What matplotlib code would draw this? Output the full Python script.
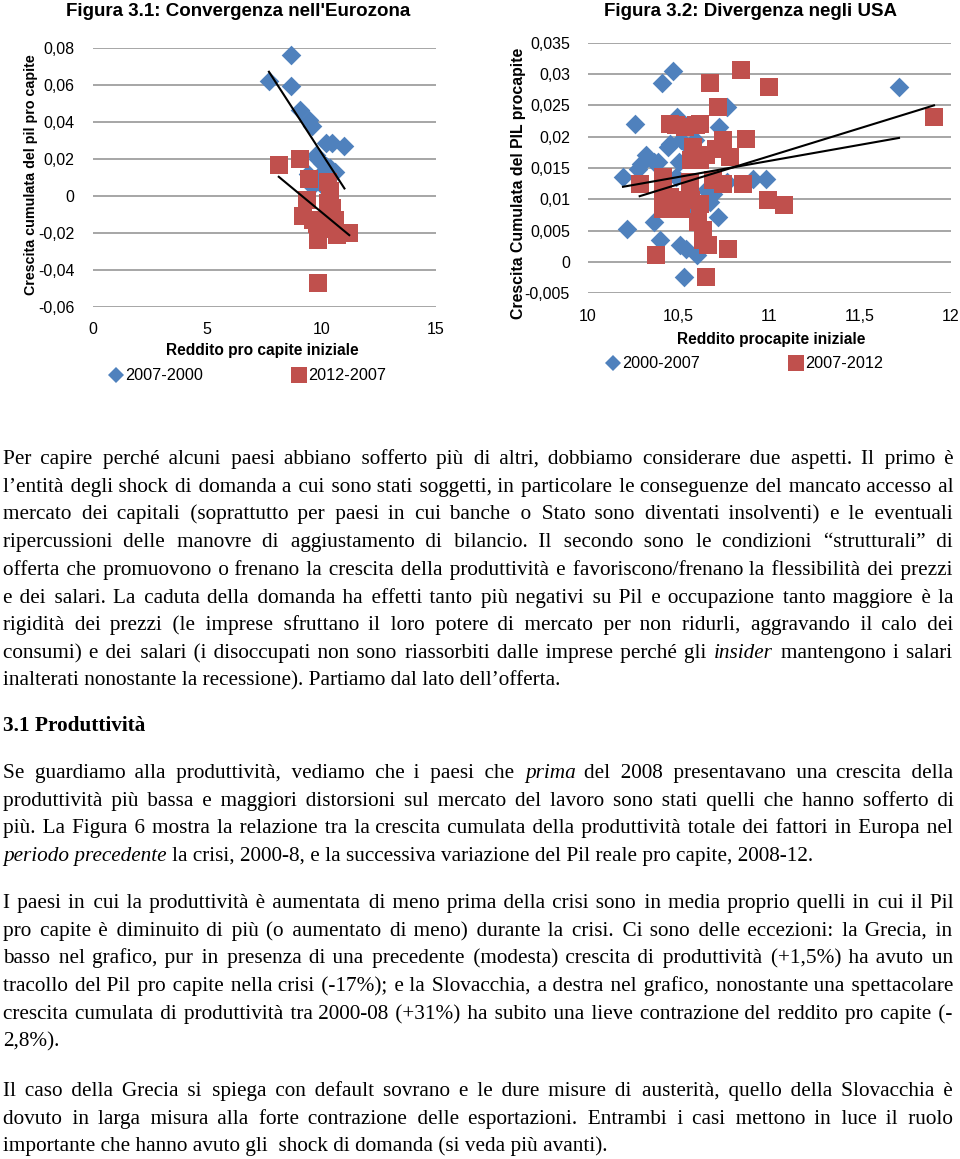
import re
import matplotlib
matplotlib.use('Agg')
import matplotlib.pyplot as plt
from matplotlib.lines import Line2D
from matplotlib.ticker import FuncFormatter, MultipleLocator

# ---- data: Figura 3.1 (Eurozona) ----
eu_x_a = [8.66, 7.70, 8.65, 9.06, 9.47, 9.60, 10.19, 10.44, 11.0, 9.76,
          9.86, 10.0, 10.19, 10.37, 10.59, 9.42, 9.93, 9.57, 10.0]
eu_y_a = [0.076, 0.062, 0.0595, 0.0466, 0.041, 0.0377, 0.0287, 0.0287, 0.027, 0.022,
          0.020, 0.0175, 0.016, 0.0148, 0.013, 0.012, 0.011, 0.0055, 0.006]
eu_x_b = [8.13, 9.06, 9.47, 10.3, 10.37, 9.35, 10.3, 10.44, 9.20, 9.64,
          9.79, 10.08, 10.59, 10.66, 11.21, 9.86, 9.86, 10.51, 10.4]
eu_y_b = [0.0168, 0.020, 0.0089, 0.0076, 0.0025, -0.002, -0.004, -0.0065, -0.011, -0.013,
          -0.015, -0.017, -0.013, -0.021, -0.020, -0.024, -0.047, -0.018, -0.009]
eu_trend_a = [0.067, 0.004]     # trend value at min / max x of the series
eu_trend_b = [0.0103, -0.0212]
eu_series = ['2007-2000', '2012-2007']

# ---- data: Figura 3.2 (USA) ----
us_x_a = [10.193, 10.217, 10.258, 10.276, 10.294, 10.318, 10.362, 10.386, 10.362, 10.395,
          10.408, 10.469, 10.493, 10.44, 10.454, 10.515, 10.502, 10.484, 10.506, 10.539,
          10.53, 10.60, 10.589, 10.565, 10.58, 10.653, 10.69, 10.672, 10.718, 10.723,
          10.764, 10.769, 10.91, 10.984, 11.715]
us_y_a = [0.0136, 0.0053, 0.0221, 0.0149, 0.0157, 0.0171, 0.0159, 0.016, 0.0064, 0.0035,
          0.0285, 0.0305, 0.0232, 0.0184, 0.0189, 0.0195, 0.016, 0.0136, 0.0027, 0.0020,
          -0.0024, 0.0011, 0.0195, 0.0182, 0.0085, 0.0115, 0.0109, 0.0096, 0.0072, 0.0216,
          0.0248, 0.0128, 0.0133, 0.0133, 0.0279]
us_x_b = [10.285, 10.377, 10.414, 10.414, 10.414, 10.451, 10.488, 10.534, 10.598, 10.616,
          10.672, 10.718, 10.841, 11.0, 10.874, 10.745, 10.58, 10.57, 10.616, 10.653,
          10.708, 10.782, 10.69, 10.745, 10.855, 10.561, 10.451, 10.50, 10.451, 10.515,
          10.570, 10.616, 10.607, 10.635, 10.635, 10.662, 10.773, 10.653, 10.99, 11.08,
          11.908]
us_y_b = [0.0124, 0.0011, 0.0136, 0.0109, 0.0085, 0.0220, 0.0218, 0.0216, 0.0218, 0.0220,
          0.0285, 0.0248, 0.0306, 0.0279, 0.0197, 0.0195, 0.0184, 0.0163, 0.0163, 0.0171,
          0.0181, 0.0168, 0.0131, 0.0125, 0.0124, 0.0128, 0.0104, 0.0099, 0.0088, 0.0085,
          0.0099, 0.0093, 0.0064, 0.0051, 0.0035, 0.0027, 0.0021, -0.0024, 0.0099, 0.0091,
          0.0231]
us_trend_a = [0.0120, 0.0198]
us_trend_b = [0.0105, 0.0250]
us_series = ['2000-2007', '2007-2012']

# ---- body text (original line breaks; _..._ = italic) ----
para1 = [
    "Per capire perché alcuni paesi abbiano sofferto più di altri, dobbiamo considerare due aspetti. Il primo è",
    "l’entità degli shock di domanda a cui sono stati soggetti, in particolare le conseguenze del mancato accesso al",
    "mercato dei capitali (soprattutto per paesi in cui banche o Stato sono diventati insolventi) e le eventuali",
    "ripercussioni delle manovre di aggiustamento di bilancio. Il secondo sono le condizioni “strutturali” di",
    "offerta che promuovono o frenano la crescita della produttività e favoriscono/frenano la flessibilità dei prezzi",
    "e dei salari. La caduta della domanda ha effetti tanto più negativi su Pil e occupazione tanto maggiore è la",
    "rigidità dei prezzi (le imprese sfruttano il loro potere di mercato per non ridurli, aggravando il calo dei",
    "consumi) e dei salari (i disoccupati non sono riassorbiti dalle imprese perché gli _insider_ mantengono i salari",
    "inalterati nonostante la recessione). Partiamo dal lato dell’offerta.",
]
heading = "3.1 Produttività"
para2 = [
    "Se guardiamo alla produttività, vediamo che i paesi che _prima_ del 2008 presentavano una crescita della",
    "produttività più bassa e maggiori distorsioni sul mercato del lavoro sono stati quelli che hanno sofferto di",
    "più. La Figura 6 mostra la relazione tra la crescita cumulata della produttività totale dei fattori in Europa nel",
    "_periodo precedente_ la crisi, 2000-8, e la successiva variazione del Pil reale pro capite, 2008-12.",
]
para3 = [
    "I paesi in cui la produttività è aumentata di meno prima della crisi sono in media proprio quelli in cui il Pil",
    "pro capite è diminuito di più (o aumentato di meno) durante la crisi. Ci sono delle eccezioni: la Grecia, in",
    "basso nel grafico, pur in presenza di una precedente (modesta) crescita di produttività (+1,5%) ha avuto un",
    "tracollo del Pil pro capite nella crisi (-17%); e la Slovacchia, a destra nel grafico, nonostante una spettacolare",
    "crescita cumulata di produttività tra 2000-08 (+31%) ha subito una lieve contrazione del reddito pro capite (-",
    "2,8%).",
]
para4 = [
    "Il caso della Grecia si spiega con default sovrano e le dure misure di austerità, quello della Slovacchia è",
    "dovuto in larga misura alla forte contrazione delle esportazioni. Entrambi i casi mettono in luce il ruolo",
    "importante che hanno avuto gli  shock di domanda (si veda più avanti).",
]

BLUE = '#4F81BD'
RED = '#C0504D'
GRID = '#a6a6a6'
SANS = ['Liberation Sans', 'DejaVu Sans']
SERIF = ['Liberation Serif', 'DejaVu Serif']

fig = plt.figure(figsize=(9.6, 11.59), dpi=100)
fig.patch.set_facecolor('white')


def comma_fmt(v, pos):
    return f"{round(v, 6):g}".replace('.', ',')


def scatter_panel(rect, xa, ya, xb, yb, ta, tb, xlim, ylim, ystep, xstep,
                  title, ylabel, xlabel, names, title_xy, xlabel_xy, ylabel_xy, ylabel_fs,
                  leg_xy, leg_space):
    ax = fig.add_axes(rect)
    ax.set_xlim(*xlim)
    ax.set_ylim(*ylim)
    ax.yaxis.set_major_locator(MultipleLocator(ystep))
    ax.xaxis.set_major_locator(MultipleLocator(xstep))
    ax.yaxis.set_major_formatter(FuncFormatter(comma_fmt))
    ax.xaxis.set_major_formatter(FuncFormatter(comma_fmt))
    for s in ax.spines.values():
        s.set_visible(False)
    ax.grid(axis='y', color=GRID, linewidth=1.4)
    ax.set_axisbelow(True)
    ax.tick_params(axis='y', length=0, labelsize=11.5, pad=13)
    ax.tick_params(axis='x', length=0, labelsize=11.5, pad=11)
    for lab in ax.get_xticklabels() + ax.get_yticklabels():
        lab.set_family(SANS)
    ax.scatter(xa, ya, marker='D', s=100, color=BLUE, linewidths=0, zorder=3, clip_on=False)
    ax.scatter(xb, yb, marker='s', s=160, color=RED, linewidths=0, zorder=4, clip_on=False)
    ax.plot([min(xa), max(xa)], ta, color='black', lw=1.5, zorder=5)
    ax.plot([min(xb), max(xb)], tb, color='black', lw=1.5, zorder=5)

    fig.text(title_xy[0] / 960, 1 - title_xy[1] / 1159, title, ha='center', va='center',
             fontsize=13.5, fontweight='bold', family=SANS)
    fig.text(xlabel_xy[0] / 960, 1 - xlabel_xy[1] / 1159, xlabel, ha='center', va='center',
             fontsize=11.2, fontweight='bold', family=SANS)
    fig.text(ylabel_xy[0] / 960, 1 - ylabel_xy[1] / 1159, ylabel, ha='center', va='center',
             rotation=90, fontsize=ylabel_fs, fontweight='bold', family=SANS)
    handles = [Line2D([], [], marker='D', ls='', color=BLUE, markersize=8.5, markeredgewidth=0),
               Line2D([], [], marker='s', ls='', color=RED, markersize=11, markeredgewidth=0)]
    fig.legend(handles, names, loc='center', bbox_to_anchor=(leg_xy[0] / 960, 1 - leg_xy[1] / 1159),
               ncol=2, frameon=False, handlelength=0.8, handletextpad=0.15, columnspacing=leg_space,
               prop={'family': SANS, 'size': 11.7})
    return ax


scatter_panel([92.7 / 960, 1 - 307 / 1159, 343.3 / 960, 259.3 / 1159],
              eu_x_a, eu_y_a, eu_x_b, eu_y_b, eu_trend_a, eu_trend_b,
              (0, 15), (-0.06, 0.08), 0.02, 5,
              "Figura 3.1: Convergenza nell'Eurozona", 'Crescita cumulata del pil pro capite',
              'Reddito pro capite iniziale', eu_series,
              (238, 12), (262, 350), (31, 175), 10.3, (248, 376), 5.5)

scatter_panel([588 / 960, 1 - 293.3 / 1159, 362.7 / 960, 250.6 / 1159],
              us_x_a, us_y_a, us_x_b, us_y_b, us_trend_a, us_trend_b,
              (10, 12), (-0.005, 0.035), 0.005, 0.5,
              'Figura 3.2: Divergenza negli USA', 'Crescita Cumulata del PIL procapite',
              'Reddito procapite iniziale', us_series,
              (750, 11), (771, 339), (518, 183), 11.4, (745, 364), 5.5)

# ---- body text, justified with hair spaces ----
tx = fig.add_axes([0, 0, 1, 1])
tx.set_xlim(0, 960)
tx.set_ylim(1159, 0)
tx.axis('off')
renderer = fig.canvas.get_renderer()

LEFT, RIGHT = 3, 953
FS = 15.3
HAIR = '\u200a'


def width(s, italic=False, weight='normal'):
    t = tx.text(0, 0, s, fontsize=FS, family=SERIF, style='italic' if italic else 'normal',
                fontweight=weight)
    w = t.get_window_extent(renderer).width
    t.remove()
    return w


space_w = width('x x') - width('xx')
hair_w = (width('x' + HAIR * 20 + 'x') - width('xx')) / 20


def tokenize(line):
    words, gaps, pending = [], [], 0
    for seg in re.split(r'(_[^_]+_)', line):
        if not seg:
            continue
        italic = seg.startswith('_') and seg.endswith('_')
        body = seg[1:-1] if italic else seg
        for p in re.split(r'( +)', body):
            if p == '':
                continue
            if p.startswith(' '):
                pending += len(p)
            else:
                if words:
                    gaps.append(pending)
                words.append((p, italic))
                pending = 0
    return words, gaps


def build_runs(words, gaps, ks):
    runs = []
    for i, (w, it) in enumerate(words):
        if i == 0:
            runs.append([w, it, 0.0])
        elif it == runs[-1][1]:
            runs[-1][0] += ' ' * gaps[i - 1] + HAIR * ks[i - 1] + w
        else:
            runs.append([w, it, gaps[i - 1] * space_w + ks[i - 1] * hair_w])
    return runs


def draw_line(line, y, justify, weight='normal'):
    words, gaps = tokenize(line)
    ks = [0] * len(gaps)
    if justify and gaps:
        runs = build_runs(words, gaps, ks)
        natural = sum(width(r[0], r[1], weight) + r[2] for r in runs)
        total_k = max(0, int(round((RIGHT - LEFT - natural) / hair_w)))
        n = len(gaps)
        ks = [round((i + 1) * total_k / n) - round(i * total_k / n) for i in range(n)]
    x = LEFT
    for text, it, gap in build_runs(words, gaps, ks):
        x += gap
        t = tx.text(x, y, text, fontsize=FS, family=SERIF, style='italic' if it else 'normal',
                    fontweight=weight, ha='left', va='baseline')
        x += t.get_window_extent(renderer).width


def draw_para(lines, y0, step=27.7):
    for i, line in enumerate(lines):
        draw_line(line, y0 + i * step, justify=(i < len(lines) - 1))


draw_para(para1, 464)
draw_line(heading, 731, justify=False, weight='bold')
draw_para(para2, 778)
draw_para(para3, 908)
draw_para(para4, 1096)

fig.savefig('out.png', dpi=100, facecolor='white')
